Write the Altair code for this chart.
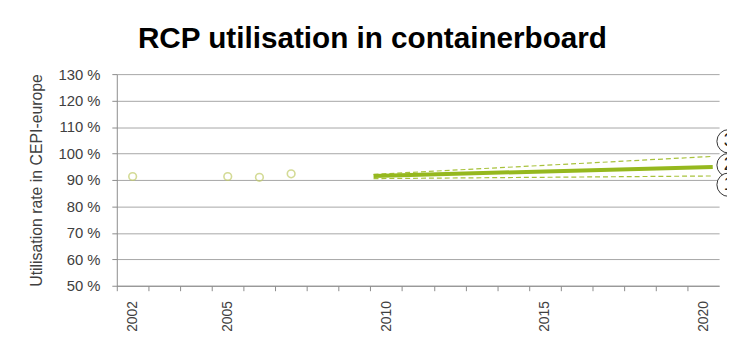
import altair as alt
import pandas as pd

# ---- data ----
hist_years = [2002, 2005, 2006, 2007]
hist_values = [91.3, 91.3, 91.0, 92.3]

proj_years = [2009.6, 2020.3]
proj_base = [91.5, 94.9]
proj_high = [92.1, 98.9]
proj_low = [90.5, 91.5]

callout_labels = ["3", "2", "1"]
callout_values = [104.6, 95.6, 88.2]
callout_year = 2020.8

year_ticks = list(range(2002, 2022))
year_labels = [2002, 2005, 2010, 2015, 2020]
y_ticks = [50, 60, 70, 80, 90, 100, 110, 120, 130]

W, H = 609, 214
half_band = W / 19 / 2
FONT = "Liberation Sans"

hist_df = pd.DataFrame({"year": hist_years, "value": hist_values})
base_df = pd.DataFrame({"year": proj_years, "value": proj_base})
band_df = pd.concat([
    pd.DataFrame({"year": proj_years, "value": proj_high, "series": "high"}),
    pd.DataFrame({"year": proj_years, "value": proj_low, "series": "low"}),
])
call_df = pd.DataFrame({"year": [callout_year] * 3, "value": callout_values,
                        "label": callout_labels})

label_list = ",".join(f"'{y}'" for y in year_labels)

x_enc = alt.X(
    "year:Q",
    scale=alt.Scale(domain=[2001.5, 2020.5], nice=False, zero=False),
    axis=alt.Axis(
        values=year_ticks, format="d",
        labelExpr=f"indexof([{label_list}], datum.label) >= 0 ? datum.label : ''",
        labelAngle=270, labelFlush=False, labelOverlap=False,
        tickOffset=-half_band, labelOffset=half_band,
        grid=False, title=None, tickSize=5, labelPadding=10,
        domainColor="#8c8c8c", tickColor="#8c8c8c",
        labelFont=FONT, labelFontSize=14, labelColor="#404040",
    ),
)
y_enc = alt.Y(
    "value:Q",
    scale=alt.Scale(domain=[50, 130], nice=False, zero=False),
    axis=alt.Axis(
        values=y_ticks, labelExpr="datum.value + ' %'",
        grid=True, gridColor="#a6a6a6", domainColor="#8c8c8c",
        tickColor="#8c8c8c", tickSize=5, labelPadding=12,
        labelFont=FONT, labelFontSize=15, labelColor="#404040",
        title="Utilisation rate in CEPI-europe", titleFont=FONT,
        titleFontSize=16, titleFontWeight="normal", titleColor="#404040",
        titlePadding=14,
    ),
)

points = alt.Chart(hist_df).mark_point(
    shape="circle", filled=False, size=60, strokeWidth=1.6, color="#c2cc6a"
).encode(x=x_enc, y=y_enc)

base_line = alt.Chart(base_df).mark_line(
    color="#95b81e", strokeWidth=4
).encode(x=x_enc, y=y_enc)

band_lines = alt.Chart(band_df).mark_line(
    color="#a8c23c", strokeWidth=1.2, strokeDash=[5, 3]
).encode(x=x_enc, y=y_enc, detail="series:N")

callouts = alt.Chart(call_df).mark_circle(
    size=560, color="white", opacity=1, stroke="#333333", strokeWidth=1
).encode(x=x_enc, y=y_enc)

callout_text = alt.Chart(call_df).mark_text(
    font=FONT, fontSize=18, color="#222222"
).encode(x=x_enc, y=y_enc, text="label:N")

chart = alt.layer(band_lines, base_line, points, callouts, callout_text).properties(
    width=W, height=H,
    title=alt.TitleParams(
        "RCP utilisation in containerboard", font=FONT, fontSize=30,
        fontWeight="bold", color="#000000", anchor="middle", dx=-46, offset=13,
    ),
    autosize=alt.AutoSizeParams(type="none"),
    padding={"left": 110, "top": 65, "right": 8, "bottom": 54},
).configure_view(strokeWidth=0)

chart.save("out.html", embed_options={"renderer": "svg", "actions": False})
